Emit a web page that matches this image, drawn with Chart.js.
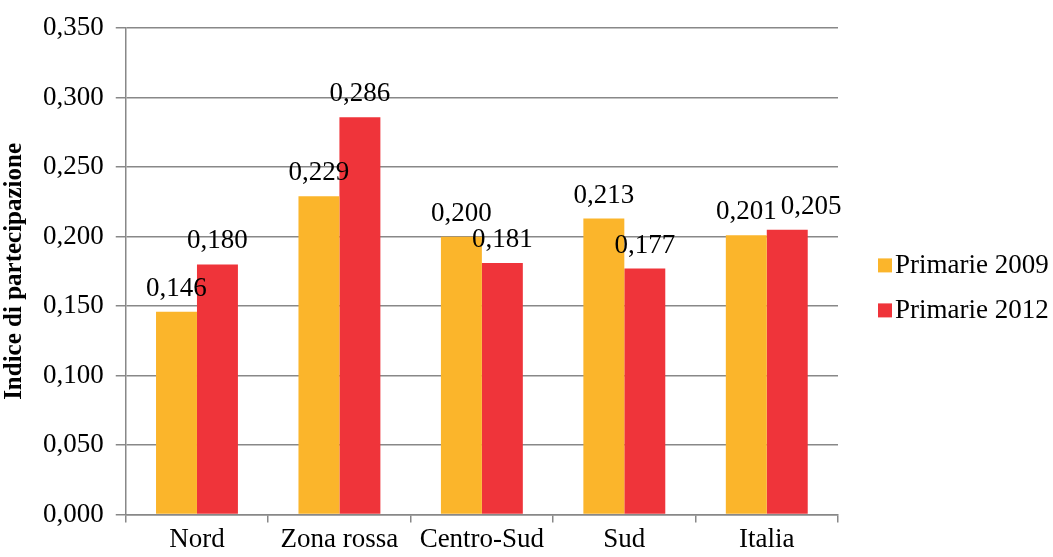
<!DOCTYPE html>
<html>
<head>
<meta charset="utf-8">
<script src="https://cdn.jsdelivr.net/npm/chart.js@4"></script>
<style>
  html, body { margin: 0; padding: 0; background: #fff; }
  #wrap { width: 1053px; height: 557px; }
</style>
</head>
<body>
<div id="wrap"><canvas id="chartPrimarie"></canvas></div>
<script>
const categorie = ['Nord', 'Zona rossa', 'Centro-Sud', 'Sud', 'Italia'];
const primarie2009 = [0.146, 0.229, 0.200, 0.213, 0.201];
const primarie2012 = [0.180, 0.286, 0.181, 0.177, 0.205];
const yTicks = [0, 0.05, 0.10, 0.15, 0.20, 0.25, 0.30, 0.35];

const fmt = v => v.toFixed(3).replace('.', ',');
const serif = "'Liberation Serif', 'Times New Roman', serif";

// etichette dei valori sopra le barre (spostate se si sovrappongono)
const etichette = {
  id: 'etichette',
  afterDatasetsDraw(chart) {
    const c = chart.ctx;
    c.save();
    c.font = '27px ' + serif;
    c.fillStyle = '#000';
    c.textAlign = 'center';
    c.textBaseline = 'alphabetic';
    const m0 = chart.getDatasetMeta(0).data;
    const m1 = chart.getDatasetMeta(1).data;
    const d0 = chart.data.datasets[0].data;
    const d1 = chart.data.datasets[1].data;
    m0.forEach((b0, j) => {
      const b1 = m1[j];
      const t0 = fmt(d0[j]), t1 = fmt(d1[j]);
      const w = c.measureText(t0).width;
      let x1 = b1.x;
      if (Math.abs(b0.y - b1.y) < 20 && (b1.x - b0.x) < w + 4) {
        x1 = b0.x + w + 4;
      }
      c.fillText(t0, b0.x, b0.y - 16);
      c.fillText(t1, x1, b1.y - 16);
    });
    c.restore();
  }
};

// legenda a destra, stile Excel
const legenda = {
  id: 'legenda',
  afterDraw(chart) {
    const c = chart.ctx;
    const a = chart.chartArea;
    const x = a.right + 40;
    const y0 = (a.top + a.bottom) / 2 - 13;
    c.save();
    c.font = '27px ' + serif;
    c.textBaseline = 'alphabetic';
    chart.data.datasets.forEach((ds, i) => {
      const y = y0 + i * 45;
      c.fillStyle = ds.backgroundColor;
      c.fillRect(x, y, 14, 14);
      c.fillStyle = '#000';
      c.fillText(ds.label, x + 17, y + 15);
    });
    c.restore();
  }
};

const ctx = document.getElementById('chartPrimarie');
new Chart(ctx, {
  type: 'bar',
  data: {
    labels: categorie,
    datasets: [{
      label: 'Primarie 2009',
      data: primarie2009,
      backgroundColor: '#FBB52B',
      categoryPercentage: 0.575,
      barPercentage: 1
    }, {
      label: 'Primarie 2012',
      data: primarie2012,
      backgroundColor: '#EF343A',
      categoryPercentage: 0.575,
      barPercentage: 1
    }]
  },
  options: {
    responsive: true,
    maintainAspectRatio: false,
    animation: false,
    layout: { padding: { top: 28, left: 0, right: 215, bottom: 0 } },
    plugins: {
      legend: { display: false },
      tooltip: { enabled: false }
    },
    scales: {
      x: {
        grid: {
          drawOnChartArea: false,
          color: '#888',
          lineWidth: 1.5,
          tickLength: 8
        },
        border: { color: '#888', width: 1.5 },
        ticks: { color: '#000', font: { family: serif, size: 27 }, padding: 1 }
      },
      y: {
        min: 0,
        max: 0.35,
        afterBuildTicks: axis => { axis.ticks = yTicks.map(v => ({ value: v })); },
        grid: { color: '#888', lineWidth: 1.5, tickLength: 10 },
        border: { color: '#888', width: 1.5 },
        ticks: {
          color: '#000',
          font: { family: serif, size: 27 },
          padding: 12,
          callback: v => fmt(v)
        },
        title: {
          display: true,
          text: 'Indice di partecipazione',
          color: '#000',
          font: { family: serif, size: 25, weight: 'bold' },
          padding: { top: 0, bottom: 1 }
        }
      }
    }
  },
  plugins: [etichette, legenda]
});
</script>
</body>
</html>
